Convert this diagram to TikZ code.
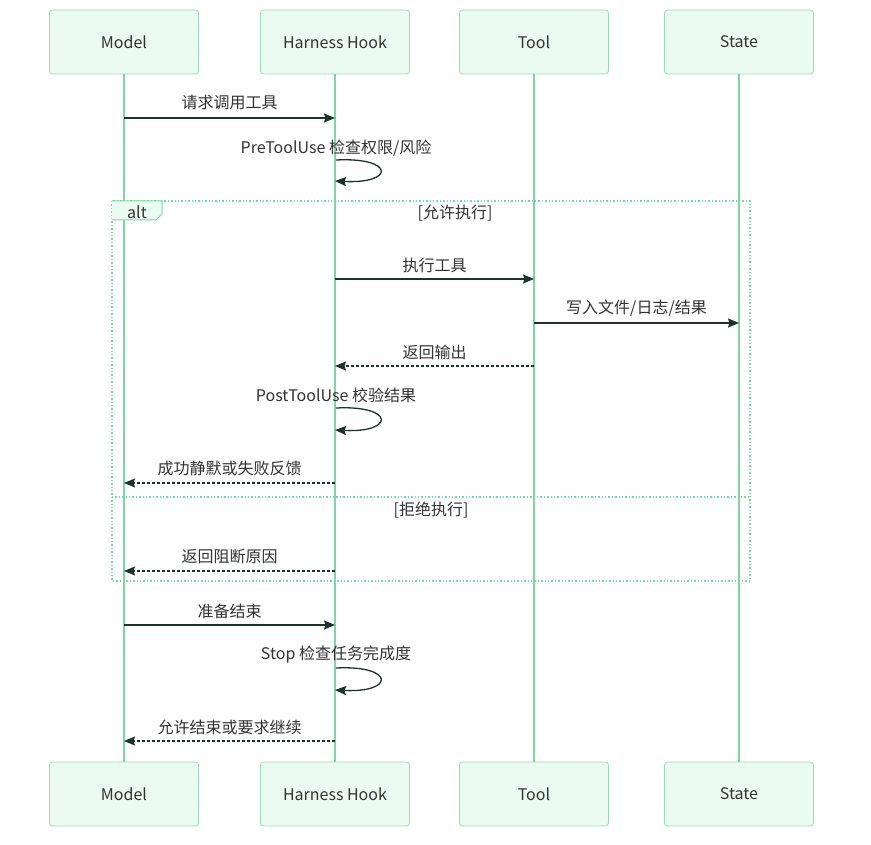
\documentclass[tikz,border=0pt]{standalone}
\usepackage{fontspec}
\setmainfont{Noto Sans CJK SC}
\usetikzlibrary{arrows.meta,positioning}
\definecolor{boxfill}{HTML}{ECFBF1}
\definecolor{boxline}{HTML}{9ADBB5}
\definecolor{lifeline}{HTML}{82D3A6}
\definecolor{msgline}{HTML}{1E3328}
\definecolor{txt}{HTML}{333333}
\tikzset{actor/.style={rectangle,rounded corners=3pt,fill=boxfill,draw=boxline,line width=0.8pt,minimum width=149pt,minimum height=64pt,inner sep=0pt,text=txt,font=\fontsize{16}{19}\selectfont},
         life/.style={draw=lifeline,line width=1.8pt},
         msg/.style={draw=msgline,line width=1.3pt,-{Stealth[length=11pt,width=9pt,inset=1.5pt]}},
         reply/.style={msg,dash pattern=on 3pt off 2pt},
         msg label/.style={rectangle,draw=none,fill=none,inner sep=0pt,text=txt,font=\fontsize{16}{19}\selectfont},
         frame line/.style={draw=lifeline,line width=1.4pt,dash pattern=on 1.4pt off 2pt}
}
\begin{document}
\begin{tikzpicture}[x=1pt,y=-1pt]
\useasboundingbox[fill=white] (0,0) rectangle (871,845);

% participants
\node [actor] (model) at (124,42) {Model};
\node [actor] (hook) at (335,42) {Harness Hook};
\node [actor] (tool) at (534,42) {Tool};
\node [actor] (state) at (739,42) {State};

\node [actor] (model2) at (124,794) {Model};
\node [actor] (hook2) at (335,794) {Harness Hook};
\node [actor] (tool2) at (534,794) {Tool};
\node [actor] (state2) at (739,794) {State};

\draw [life] (model) -- (model2);
\draw [life] (hook) -- (hook2);
\draw [life] (tool) -- (tool2);
\draw [life] (state) -- (state2);

% alt frame
\coordinate (f1) at (112,201);
\coordinate (f2) at (750,581);
\draw [frame line] (f1) rectangle (f2);
\draw [frame line] (112,497) -- (750,497);
\path [fill=boxfill] (112,201) -- (162,201) -- (162,214) -- (156,220) -- (112,220) -- cycle;
\draw [draw=lifeline,line width=1pt] (112,201) -- (162,201) -- (162,214) -- (156,220) -- (112,220);
\node [msg label] (alt) at (137,212) {alt};
\node [msg label] (yes) at (455,213) {[允许执行]};
\node [msg label] (no) at (431,510) {[拒绝执行]};

% messages
\coordinate (m1a) at (124,118); \coordinate (m1b) at (335,118);
\draw [msg] (m1a) -- (m1b) node [msg label,midway,above=7pt] {请求调用工具};

\node [msg label] (pre) at (336,148) {PreToolUse 检查权限/风险};
\coordinate (l1a) at (336,160); \coordinate (l1b) at (335,181);
\draw [msg] (l1a) .. controls (395,157) and (395,184) .. (l1b);

\coordinate (m3a) at (335,279); \coordinate (m3b) at (534,279);
\draw [msg] (m3a) -- (m3b) node [msg label,midway,above=6pt] {执行工具};

\coordinate (m4a) at (534,323); \coordinate (m4b) at (739,323);
\draw [msg] (m4a) -- (m4b) node [msg label,midway,above=6pt] {写入文件/日志/结果};

\coordinate (m5a) at (534,366); \coordinate (m5b) at (335,366);
\draw [reply] (m5a) -- (m5b) node [msg label,midway,above=6pt] {返回输出};

\node [msg label] (post) at (336,395) {PostToolUse 校验结果};
\coordinate (l2a) at (336,408); \coordinate (l2b) at (335,430);
\draw [msg] (l2a) .. controls (395,405) and (395,433) .. (l2b);

\coordinate (m7a) at (335,483); \coordinate (m7b) at (124,483);
\draw [reply] (m7a) -- (m7b) node [msg label,midway,above=6pt] {成功静默或失败反馈};

\coordinate (m8a) at (335,571); \coordinate (m8b) at (124,571);
\draw [reply] (m8a) -- (m8b) node [msg label,midway,above=6pt] {返回阻断原因};

\coordinate (m9a) at (124,625); \coordinate (m9b) at (335,625);
\draw [msg] (m9a) -- (m9b) node [msg label,midway,above=6pt] {准备结束};

\node [msg label] (stop) at (336,655) {Stop 检查任务完成度};
\coordinate (l3a) at (336,668); \coordinate (l3b) at (335,690);
\draw [msg] (l3a) .. controls (395,665) and (395,693) .. (l3b);

\coordinate (m11a) at (335,741); \coordinate (m11b) at (124,741);
\draw [reply] (m11a) -- (m11b) node [msg label,midway,above=6pt] {允许结束或要求继续};
\end{tikzpicture}
\end{document}
